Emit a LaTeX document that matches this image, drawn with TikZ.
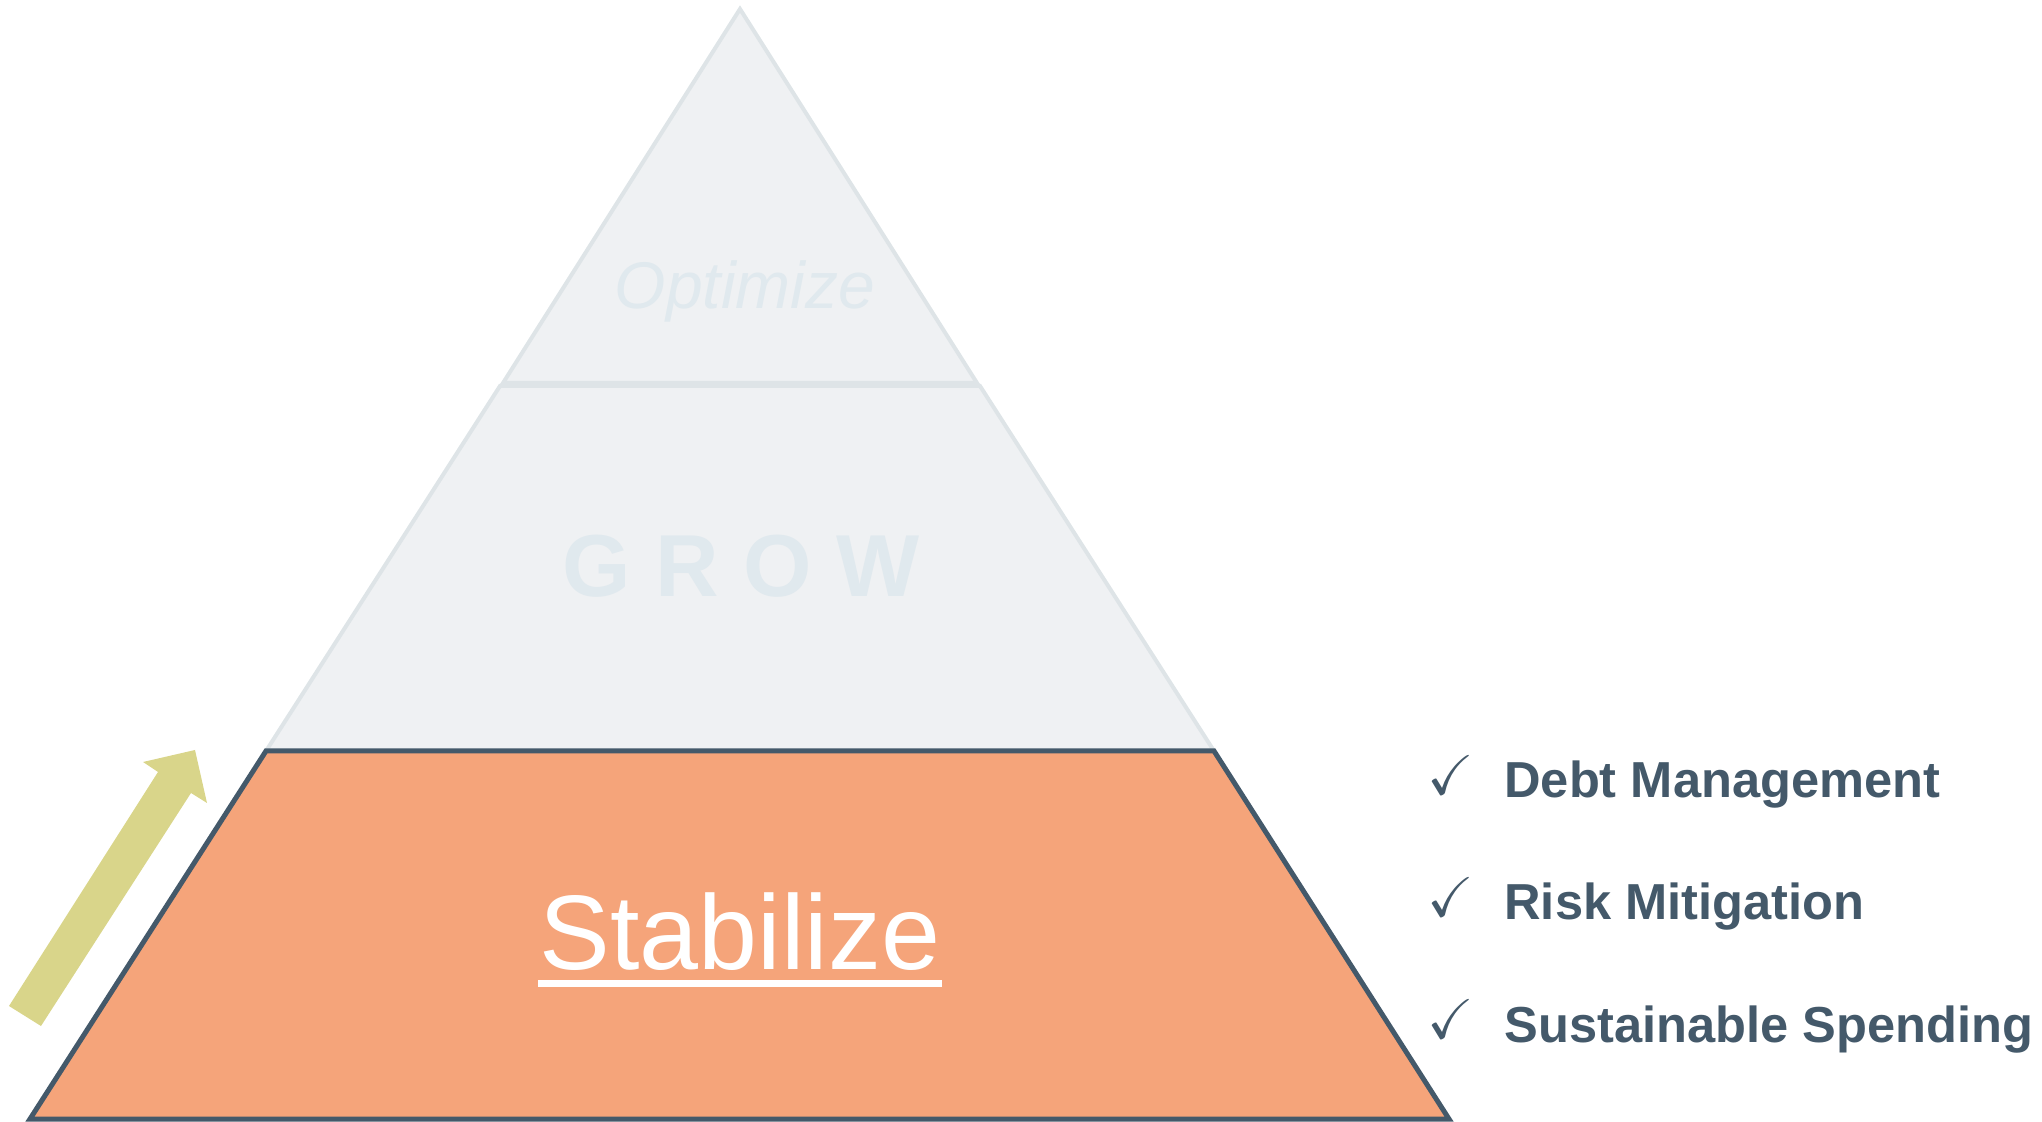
\documentclass[tikz,border=0pt]{standalone}
\usepackage{amssymb}
\usepackage{fontspec}
\setmainfont{Liberation Sans}
\usetikzlibrary{calc}
\definecolor{tierfill}{HTML}{EFF1F3}
\definecolor{tierline}{HTML}{DEE4E7}
\definecolor{tiertext}{HTML}{E0E9EE}
\definecolor{stabfill}{HTML}{F5A47A}
\definecolor{slate}{HTML}{44596A}
\definecolor{arrowfill}{HTML}{D9D58A}
\begin{document}
\begin{tikzpicture}[x=0.5pt,y=-0.5pt,
  tier/.style={fill=tierfill,draw=tierline,line width=2pt},
  base tier/.style={fill=stabfill,draw=slate,line width=2.5pt},
  item/.style={anchor=base west,inner sep=0pt,text=slate,font=\fontsize{25.3pt}{26pt}\selectfont\bfseries},
  tick/.style={inner sep=0pt,text=slate,font=\fontsize{28pt}{28pt}\selectfont}]
\useasboundingbox (0,0) rectangle (2042,1122);
% tiers
\draw[tier] (740,9) -- (977,383) -- (503,383) -- cycle;
\draw[tier] (500,386) -- (980,386) -- (1214,751) -- (266,751) -- cycle;
\draw[base tier] (266,751) -- (1214,751) -- (1449,1119) -- (30,1119) -- cycle;
% labels
\node[anchor=base,inner sep=0pt,text=tiertext,font=\fontsize{33pt}{33pt}\selectfont\itshape] (opt) at (745,309) {Optimize};
\node[anchor=base,inner sep=0pt,text=tiertext,font=\fontsize{44pt}{44pt}\selectfont\bfseries] (grow) at (741,597) {G R O W};
\node[anchor=base,inner sep=0pt,text=white,font=\fontsize{53pt}{53pt}\selectfont] (stab) at (740,970) {Stabilize};
\draw[white,line width=3.5pt] ($(stab.base west)+(-1,13.5)$) -- ($(stab.base east)+(1,13.5)$);
% arrow
\fill[arrowfill] (9,1006) -- (158,772) -- (143,762) -- (195,750) -- (207,803) -- (191,793) -- (41,1026) -- cycle;
% list
\node[tick] (c1) at (1451,775) {$\checkmark$};
\node[tick] (c2) at (1451,897) {$\checkmark$};
\node[tick] (c3) at (1451,1019) {$\checkmark$};
\node[item] (dm) at (1504,798) {Debt Management};
\node[item] (rm) at (1504,920) {Risk Mitigation};
\node[item] (ss) at (1504,1042) {Sustainable Spending};
\end{tikzpicture}
\end{document}
